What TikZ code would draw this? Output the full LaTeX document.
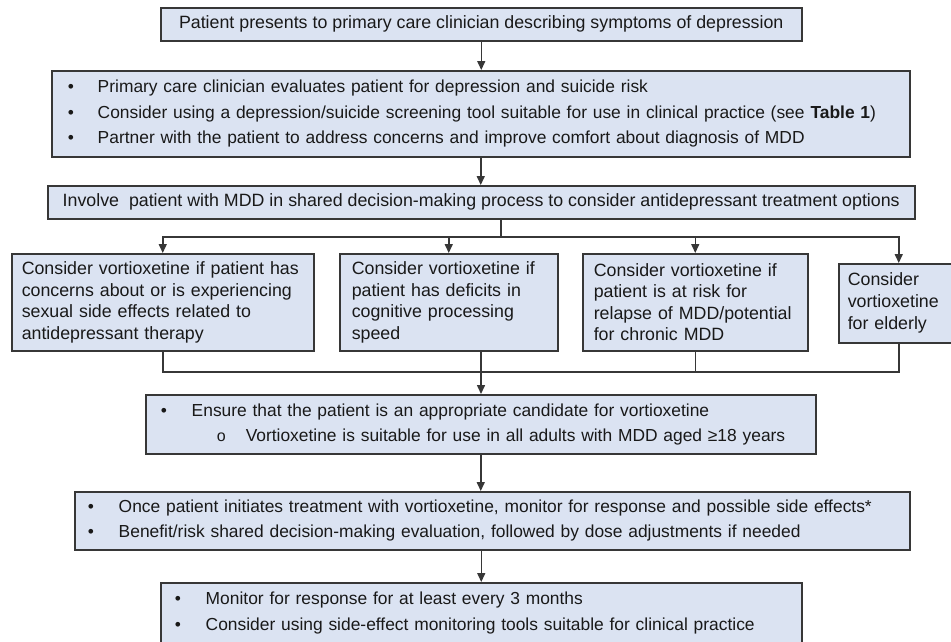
\documentclass[tikz,border=0pt]{standalone}
\usepackage{fontspec}
\setmainfont{Liberation Sans}
\usetikzlibrary{arrows.meta,calc}
\definecolor{boxfill}{RGB}{219,227,242}
\definecolor{boxline}{RGB}{55,55,55}
\definecolor{txt}{RGB}{25,25,25}
\newcommand{\bul}[1]{\mbox{\makebox[30pt][l]{\textbullet}#1}}
\newcommand{\bulb}[1]{\mbox{\makebox[31pt][l]{\textbullet}#1}}
\begin{document}
\begin{tikzpicture}[x=1pt,y=-1pt,
 box/.style={draw=boxline, fill=boxfill, line width=1.5pt, anchor=north west, inner ysep=0pt, text=txt},
 cbox/.style={box, align=center, font=\fontsize{17.8}{21}\selectfont},
 lbox/.style={box, align=left, font=\fontsize{17.8}{21.5}\selectfont},
 bbox/.style={box, align=left, font=\fontsize{17.4}{25.5}\selectfont},
 conn/.style={draw=boxline, line width=1.5pt},
 arr/.style={conn, -{Triangle[length=9pt,width=8pt]}},
]
\clip (0,0) rectangle (951,641);
\fill[white] (0,0) rectangle (951,641);

\node[cbox, minimum width=641pt, minimum height=33pt] (n1) at (160,7)
 {Patient presents to primary care clinician describing symptoms of depression};
\node[bbox, inner xsep=16pt, text width=826pt, minimum height=86pt] (n2) at (51,70)
 {\bul{Primary care clinician evaluates patient for depression and suicide risk}\\
  \bul{Consider using a depression/suicide screening tool suitable for use in clinical practice (see \textbf{Table 1})}\\
  \bul{Partner with the patient to address concerns and improve comfort about diagnosis of MDD}};
\node[cbox, minimum width=867pt, minimum height=33pt] (n3) at (47,185)
 {Involve~ patient with MDD in shared decision-making process to consider antidepressant treatment options};

\node[lbox, inner xsep=10pt, text width=282pt, minimum height=97pt] (na) at (11,253)
 {Consider vortioxetine if patient has\\concerns about or is experiencing\\sexual side effects related to\\antidepressant therapy};
\node[lbox, inner xsep=12pt, text width=194pt, minimum height=97pt] (nb) at (339,253)
 {Consider vortioxetine if\\patient has deficits in\\cognitive processing\\speed};
\node[lbox, inner xsep=11pt, text width=203pt, minimum height=97pt] (nc) at (582,253)
 {Consider vortioxetine if\\patient is at risk for\\\mbox{relapse of MDD/potential}\\for chronic MDD};
\node[lbox, inner xsep=9pt, text width=102pt, minimum height=79pt, font=\fontsize{17.8}{22}\selectfont] (nd) at (838,263)
 {Consider\\vortioxetine\\for elderly};

\node[bbox, inner xsep=15pt, text width=640pt, minimum height=59pt, font=\fontsize{17.4}{25}\selectfont] (n5) at (145,394)
 {\bulb{Ensure that the patient is an appropriate candidate for vortioxetine}\\
  \mbox{\hspace*{56pt}\makebox[29pt][l]{\fontsize{16}{16}\selectfont o}Vortioxetine is suitable for use in all adults with MDD aged ≥18 years}};
\node[bbox, inner xsep=13pt, text width=809pt, minimum height=58pt, font=\fontsize{17.4}{25}\selectfont] (n6) at (74,491)
 {\bulb{Once patient initiates treatment with vortioxetine, monitor for response and possible side effects*}\\
  \bulb{Benefit/risk shared decision-making evaluation, followed by dose adjustments if needed}};
\node[bbox, inner xsep=14pt, text width=613pt, minimum height=60pt, font=\fontsize{17.4}{26}\selectfont] (n7) at (160,582)
 {\bulb{Monitor for response for at least every 3 months}\\
  \bulb{Consider using side-effect monitoring tools suitable for clinical practice}};

\draw[arr] (n1.south) -- (n1.south |- n2.north);
\draw[arr] (n2.south) -- (n2.south |- n3.north);
\coordinate (split) at (501,237);
\draw[conn] (n3.south -| split) -- (split);
\draw[arr] (split) -| (na.north);
\draw[arr] (split) -| (nb.north);
\draw[arr] (split) -| (nc.north);
\draw[arr] (split) -| (nd.north);
\coordinate (merge) at (481,372);
\draw[conn] (na.south) |- (merge);
\draw[conn] (nc.south) |- (merge);
\draw[conn] (nd.south) |- (merge);
\draw[arr] (nb.south -| merge) -- (n5.north -| merge);
\draw[arr] (n5.south) -- (n5.south |- n6.north);
\draw[arr] (n6.south -| n7.north) -- (n7.north);
\end{tikzpicture}
\end{document}
